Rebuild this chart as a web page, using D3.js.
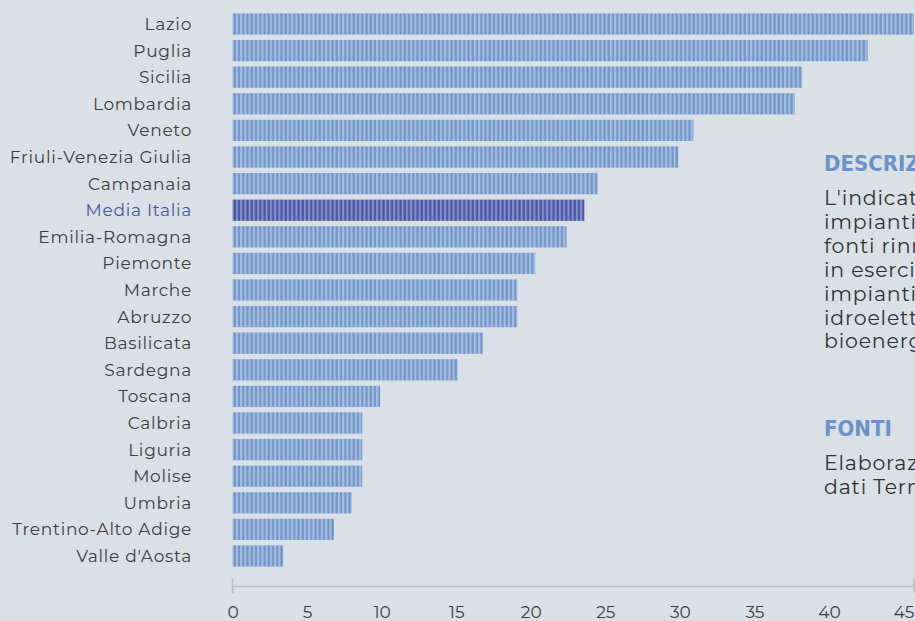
<!DOCTYPE html>
<html>
<head>
<meta charset="utf-8">
<script src="https://cdn.jsdelivr.net/npm/d3@7"></script>
<style>
  html, body { margin: 0; padding: 0; background: #d9e0e6; overflow: hidden; }
  svg { display: block; }
</style>
</head>
<body>
<div id="chart"></div>
<script>
// regioni e valori (MW per 100 km2)
var regioni = ["Lazio", "Puglia", "Sicilia", "Lombardia", "Veneto", "Friuli-Venezia Giulia",
    "Campanaia", "Media Italia", "Emilia-Romagna", "Piemonte", "Marche", "Abruzzo",
    "Basilicata", "Sardegna", "Toscana", "Calbria", "Liguria", "Molise", "Umbria",
    "Trentino-Alto Adige", "Valle d'Aosta"];
var valori = [45.7, 42.6, 38.2, 37.7, 30.9, 29.9,
    24.5, 23.6, 22.4, 20.3, 19.1, 19.1,
    16.8, 15.1, 9.9, 8.7, 8.7, 8.7, 8.0,
    6.8, 3.4];
var ticks = [0, 5, 10, 15, 20, 25, 30, 35, 40, 45];

var descrizione = ["L'indicatore misura la potenza", "impianti di generazione elettrica da",
    "fonti rinnovabili (MW per 100 km²)", "in esercizio, considerando gli",
    "impianti fotovoltaici, eolici,", "idroelettrici, geotermici e a", "bioenergie."];
var fonti = ["Elaborazione openpolis su", "dati Terna"];

var width = 915,
    height = 621;
var margin = { top: 10.7, left: 232.5, right: 1, bottom: 51.7 };

var media = "Media Italia";
var fontBase = "Montserrat, 'Noto Sans', sans-serif";

var svg = d3.select("#chart")
    .append("svg")
    .attr("width", width)
    .attr("height", height)
    .style("font-family", fontBase);

svg.append("rect")
    .attr("width", width)
    .attr("height", height)
    .attr("fill", "#d9e0e6");

// pattern a righe verticali
function addPattern(id, light, dark) {
    var p = svg.append("defs")
        .append("pattern")
        .attr("id", id)
        .attr("patternUnits", "userSpaceOnUse")
        .attr("x", margin.left)
        .attr("width", 4.25)
        .attr("height", 10);
    p.append("rect").attr("width", 4.25).attr("height", 10).attr("fill", light);
    p.append("rect").attr("x", 1.2).attr("width", 2.1).attr("height", 10).attr("fill", dark);
}
addPattern("righe", "#a6bddc", "#6e96cb");
addPattern("righeMedia", "#8490c6", "#4555a6");

var x = d3.scaleLinear()
    .domain([0, d3.max(valori)])
    .range([margin.left, width - margin.right]);

var y = d3.scaleBand()
    .domain(regioni)
    .range([margin.top, height - margin.bottom])
    .paddingInner(0.2)
    .paddingOuter(0.1);

svg.selectAll("rect.bar")
    .data(regioni)
    .join("rect")
    .attr("class", "bar")
    .attr("x", x(0))
    .attr("y", (d) => y(d))
    .attr("width", (d, i) => x(valori[i]) - x(0))
    .attr("height", y.bandwidth())
    .attr("fill", (d) => d === media ? "url(#righeMedia)" : "url(#righe)");

svg.selectAll("text.label")
    .data(regioni)
    .join("text")
    .attr("class", "label")
    .attr("x", 192)
    .attr("y", (d) => y(d) + y.bandwidth() / 2)
    .attr("dy", "0.35em")
    .attr("text-anchor", "end")
    .attr("font-size", 17)
    .attr("letter-spacing", 0.7)
    .attr("fill", (d) => d === media ? "#4a56a8" : "#404040")
    .text((d) => d);

// asse x
var xAxis = svg.append("g")
    .attr("transform", "translate(0,586)")
    .call(d3.axisBottom(x).tickValues(ticks).tickSize(0).tickPadding(20));
xAxis.select(".domain").attr("stroke", "#b9bec3").attr("stroke-width", 1.5);
xAxis.selectAll("text")
    .attr("font-size", 17)
    .attr("font-family", fontBase)
    .attr("fill", "#404040");
xAxis.selectAll(".end")
    .data(x.range())
    .join("line")
    .attr("class", "end")
    .attr("x1", (d) => d)
    .attr("x2", (d) => d)
    .attr("y1", -7)
    .attr("y2", 7)
    .attr("stroke", "#b9bec3")
    .attr("stroke-width", 1.5);

// testo laterale
var side = svg.append("g").attr("transform", "translate(824,0)");
var fontTitolo = "'DejaVu Sans Condensed', 'Liberation Sans Narrow', sans-serif";

side.append("text")
    .attr("y", 171)
    .attr("font-family", fontTitolo)
    .attr("font-weight", "bold")
    .attr("font-size", 22)
    .attr("fill", "#6a93c9")
    .text("DESCRIZIONE");

side.selectAll("text.desc")
    .data(descrizione)
    .join("text")
    .attr("class", "desc")
    .attr("y", (d, i) => 205 + i * 23.9)
    .attr("font-size", 20.5)
    .attr("letter-spacing", 0.8)
    .attr("fill", "#333")
    .text((d) => d);

side.append("text")
    .attr("y", 436)
    .attr("font-family", fontTitolo)
    .attr("font-weight", "bold")
    .attr("font-size", 22)
    .attr("fill", "#6a93c9")
    .text("FONTI");

side.selectAll("text.fonti")
    .data(fonti)
    .join("text")
    .attr("class", "fonti")
    .attr("y", (d, i) => 470 + i * 23.9)
    .attr("font-size", 20.5)
    .attr("letter-spacing", 0.8)
    .attr("fill", "#333")
    .text((d) => d);
</script>
</body>
</html>
